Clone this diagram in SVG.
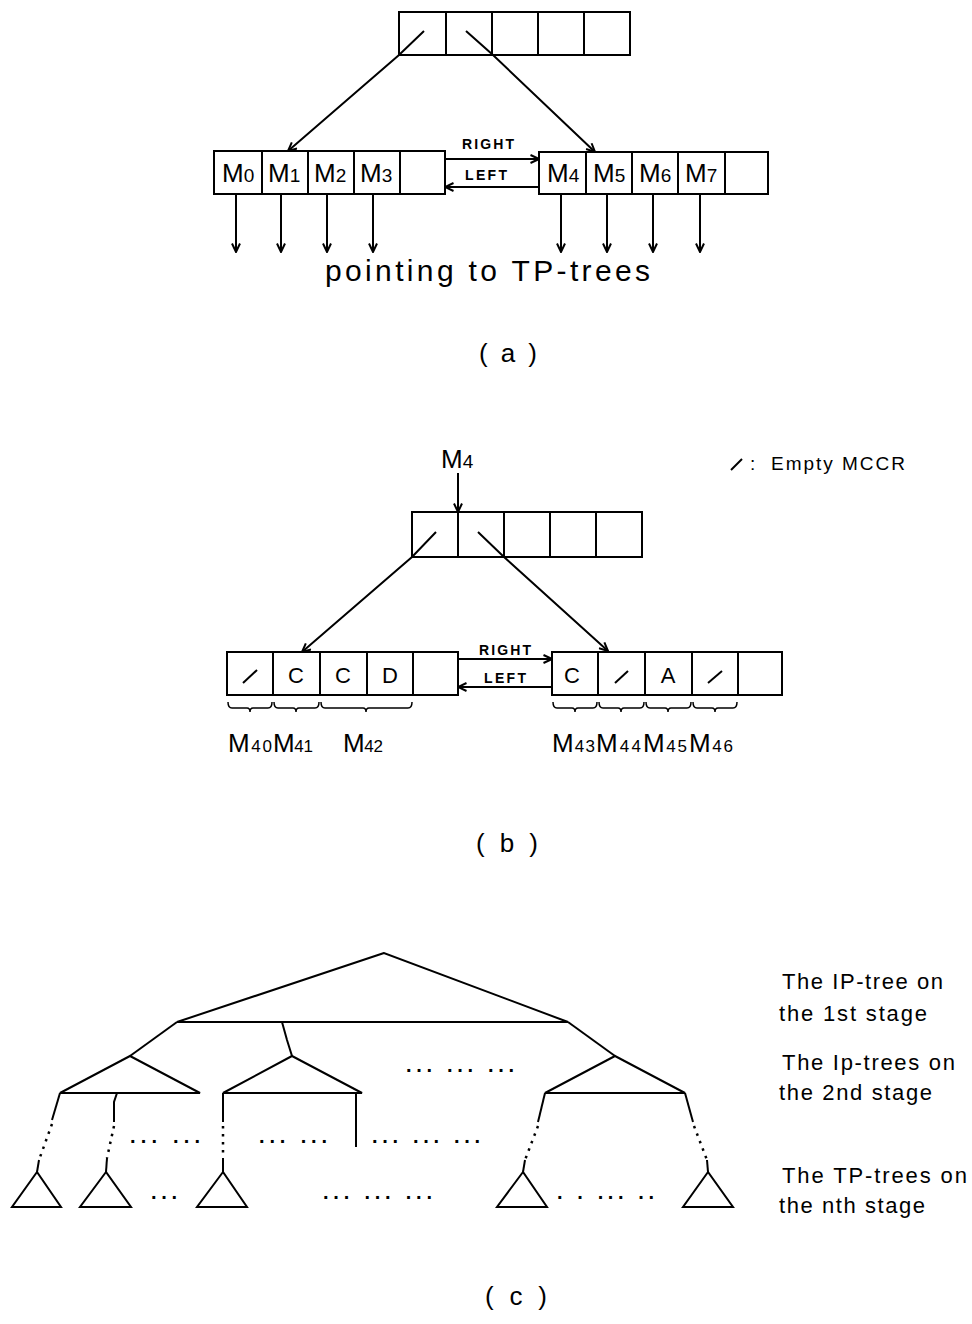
<svg xmlns="http://www.w3.org/2000/svg" width="972" height="1324" viewBox="0 0 972 1324">
<style>
.box{fill:#fff;stroke:#000;stroke-width:2}
.ln{fill:none;stroke:#000;stroke-width:2}
.thin{fill:none;stroke:#000;stroke-width:1.5}
.dot{fill:none;stroke:#000;stroke-width:2.5;stroke-dasharray:2.5 5.5}
text{font-family:"Liberation Sans",Arial,sans-serif;fill:#000}
.m{font-size:26px}
.sub{font-size:19px}
.lbl{font-size:14px;font-weight:bold}
.cap{font-size:26px}
.cell{font-size:22px}
.side{font-size:22px}
.dots{font-size:20px;font-weight:bold}
</style>
<defs>
<marker id="ah" viewBox="0 0 10 10" refX="9.5" refY="5" markerWidth="10" markerHeight="10" markerUnits="userSpaceOnUse" orient="auto">
<path d="M1,1 L9.5,5 L1,9" fill="none" stroke="#000" stroke-width="2"/>
</marker>
</defs>
<rect width="972" height="1324" fill="#fff"/>

<!-- (a) -->
<g id="a-top">
<rect class="box" x="399" y="12" width="231" height="43"/>
<path class="ln" d="M446,12V55M492,12V55M538,12V55M584,12V55"/>
</g>
<g id="a-left">
<rect class="box" x="214" y="151" width="231" height="43"/>
<path class="ln" d="M262,151V194M308,151V194M354,151V194M400,151V194"/>
<text class="m" x="222" y="182">M<tspan class="sub">0</tspan></text>
<text class="m" x="268" y="182">M<tspan class="sub">1</tspan></text>
<text class="m" x="314" y="182">M<tspan class="sub">2</tspan></text>
<text class="m" x="360" y="182">M<tspan class="sub">3</tspan></text>
</g>
<g id="a-right">
<rect class="box" x="539" y="152" width="229" height="42"/>
<path class="ln" d="M586,152V194M632,152V194M678,152V194M725,152V194"/>
<text class="m" x="547" y="182">M<tspan class="sub">4</tspan></text>
<text class="m" x="593" y="182">M<tspan class="sub">5</tspan></text>
<text class="m" x="639" y="182">M<tspan class="sub">6</tspan></text>
<text class="m" x="685" y="182">M<tspan class="sub">7</tspan></text>
</g>
<g id="a-connectors">
<polyline class="ln" points="424,31 399,55 288,151" marker-end="url(#ah)"/>
<polyline class="ln" points="466,31 493,55 595,152" marker-end="url(#ah)"/>
<line class="ln" x1="445" y1="159" x2="539" y2="159" marker-end="url(#ah)"/>
<line class="ln" x1="539" y1="187" x2="445" y2="187" marker-end="url(#ah)"/>
<line class="ln" x1="236" y1="194" x2="236" y2="252" marker-end="url(#ah)"/>
<line class="ln" x1="281" y1="194" x2="281" y2="252" marker-end="url(#ah)"/>
<line class="ln" x1="327" y1="194" x2="327" y2="252" marker-end="url(#ah)"/>
<line class="ln" x1="373" y1="194" x2="373" y2="252" marker-end="url(#ah)"/>
<line class="ln" x1="561" y1="194" x2="561" y2="252" marker-end="url(#ah)"/>
<line class="ln" x1="607" y1="194" x2="607" y2="252" marker-end="url(#ah)"/>
<line class="ln" x1="653" y1="194" x2="653" y2="252" marker-end="url(#ah)"/>
<line class="ln" x1="700" y1="194" x2="700" y2="252" marker-end="url(#ah)"/>
</g>
<text class="lbl" x="488" y="149" text-anchor="middle" textLength="52">RIGHT</text>
<text class="lbl" x="486" y="180" text-anchor="middle" textLength="42">LEFT</text>
<text x="325" y="281" font-size="30" textLength="325" lengthAdjust="spacing">pointing to TP-trees</text>
<text class="cap" x="508" y="362" text-anchor="middle" textLength="58" lengthAdjust="spacing">( a )</text>

<!-- (b) -->
<g id="b-m4">
<text class="m" x="441" y="468">M<tspan class="sub">4</tspan></text>
</g>
<g id="b-legend">
<line class="ln" x1="731" y1="470" x2="742" y2="459"/>
<text x="750" y="470" font-size="19">:</text>
<text x="771" y="470" font-size="19" textLength="134" lengthAdjust="spacing">Empty MCCR</text>
</g>
<g id="b-top">
<rect class="box" x="412" y="512" width="230" height="45"/>
<path class="ln" d="M458,512V557M504,512V557M550,512V557M596,512V557"/>
</g>
<g id="b-left">
<rect class="box" x="227" y="652" width="231" height="43"/>
<path class="ln" d="M273,652V695M320,652V695M367,652V695M413,652V695"/>
<line class="ln" x1="243" y1="683" x2="257" y2="670"/>
<text class="cell" x="296" y="683" text-anchor="middle">C</text>
<text class="cell" x="343" y="683" text-anchor="middle">C</text>
<text class="cell" x="390" y="683" text-anchor="middle">D</text>
</g>
<g id="b-right">
<rect class="box" x="552" y="652" width="230" height="43"/>
<path class="ln" d="M598,652V695M645,652V695M692,652V695M738,652V695"/>
<text class="cell" x="572" y="683" text-anchor="middle">C</text>
<line class="ln" x1="615" y1="683" x2="628" y2="671"/>
<text class="cell" x="668" y="683" text-anchor="middle">A</text>
<line class="ln" x1="708" y1="683" x2="722" y2="671"/>
</g>
<g id="b-braces">
<path class="thin" d="M228,702Q228,708 232,708L247,708Q250,708 250,712Q250,708 253,708L268,708Q272,708 272,702"/>
<path class="thin" d="M274,702Q274,708 278,708L293,708Q296,708 296,712Q296,708 299,708L315,708Q319,708 319,702"/>
<path class="thin" d="M321,702Q321,708 325,708L363,708Q366,708 366,712Q366,708 369,708L408,708Q412,708 412,702"/>
<path class="thin" d="M553,702Q553,708 557,708L572,708Q575,708 575,712Q575,708 578,708L593,708Q597,708 597,702"/>
<path class="thin" d="M599,702Q599,708 603,708L618,708Q621,708 621,712Q621,708 624,708L640,708Q644,708 644,702"/>
<path class="thin" d="M646,702Q646,708 650,708L665,708Q668,708 668,712Q668,708 671,708L687,708Q691,708 691,702"/>
<path class="thin" d="M693,702Q693,708 697,708L712,708Q715,708 715,712Q715,708 718,708L733,708Q737,708 737,702"/>
</g>
<g id="b-labels">
<text class="m" x="228" y="752" font-size="25" textLength="44" lengthAdjust="spacing">M<tspan font-size="17">40</tspan></text>
<text class="m" x="273" y="752" font-size="25" textLength="40" lengthAdjust="spacing">M<tspan font-size="17">41</tspan></text>
<text class="m" x="343" y="752" font-size="25" textLength="40" lengthAdjust="spacing">M<tspan font-size="17">42</tspan></text>
<text class="m" x="552" y="752" font-size="25" textLength="43" lengthAdjust="spacing">M<tspan font-size="17">43</tspan></text>
<text class="m" x="596" y="752" font-size="25" textLength="45" lengthAdjust="spacing">M<tspan font-size="17">44</tspan></text>
<text class="m" x="643" y="752" font-size="25" textLength="44" lengthAdjust="spacing">M<tspan font-size="17">45</tspan></text>
<text class="m" x="689" y="752" font-size="25" textLength="44" lengthAdjust="spacing">M<tspan font-size="17">46</tspan></text>
</g>
<g id="b-connectors">
<line class="ln" x1="458" y1="473" x2="458" y2="512" marker-end="url(#ah)"/>
<polyline class="ln" points="436,532 412,557 302,652" marker-end="url(#ah)"/>
<polyline class="ln" points="478,532 504,557 608,651" marker-end="url(#ah)"/>
<line class="ln" x1="458" y1="659" x2="552" y2="659" marker-end="url(#ah)"/>
<line class="ln" x1="552" y1="687" x2="458" y2="687" marker-end="url(#ah)"/>
</g>
<text class="lbl" x="505" y="655" text-anchor="middle" textLength="52">RIGHT</text>
<text class="lbl" x="505" y="683" text-anchor="middle" textLength="42">LEFT</text>
<text class="cap" x="507" y="852" text-anchor="middle" textLength="62" lengthAdjust="spacing">( b )</text>

<!-- (c) -->
<g id="c-ip-tree">
<polygon class="ln" points="384,953 177,1022 568,1022"/>
</g>
<g id="c-ip-left">
<polygon class="ln" points="130,1056 60,1093 200,1093"/>
</g>
<g id="c-ip-mid">
<polygon class="ln" points="292,1056 223,1093 362,1093"/>
</g>
<g id="c-ip-right">
<polygon class="ln" points="615,1056 545,1093 685,1093"/>
</g>
<g id="c-tp1"><polygon class="ln" points="37,1172 12,1207 61,1207"/></g>
<g id="c-tp2"><polygon class="ln" points="106,1172 80,1207 131,1207"/></g>
<g id="c-tp3"><polygon class="ln" points="223,1172 197,1207 247,1207"/></g>
<g id="c-tp4"><polygon class="ln" points="523,1172 497,1207 547,1207"/></g>
<g id="c-tp5"><polygon class="ln" points="708,1172 683,1207 733,1207"/></g>
<g id="c-connectors">
<line class="ln" x1="177" y1="1022" x2="130" y2="1056"/>
<polyline class="ln" points="282,1022 287,1040 292,1056"/>
<line class="ln" x1="568" y1="1022" x2="615" y2="1056"/>
<line class="ln" x1="60" y1="1093" x2="52" y2="1120"/>
<line class="dot" x1="52" y1="1124" x2="39" y2="1160"/>
<line class="ln" x1="39" y1="1160" x2="37" y2="1172"/>
<polyline class="ln" points="117,1093 114,1102 114,1122"/>
<line class="dot" x1="114" y1="1126" x2="107" y2="1158"/>
<line class="ln" x1="107" y1="1158" x2="106" y2="1172"/>
<line class="ln" x1="223" y1="1093" x2="223" y2="1122"/>
<line class="dot" x1="223" y1="1126" x2="223" y2="1158"/>
<line class="ln" x1="223" y1="1158" x2="223" y2="1172"/>
<line class="ln" x1="356" y1="1093" x2="356" y2="1147"/>
<line class="ln" x1="545" y1="1093" x2="538" y2="1122"/>
<line class="dot" x1="538" y1="1126" x2="525" y2="1160"/>
<line class="ln" x1="525" y1="1160" x2="523" y2="1172"/>
<line class="ln" x1="685" y1="1093" x2="693" y2="1122"/>
<line class="dot" x1="694" y1="1126" x2="707" y2="1160"/>
<line class="ln" x1="707" y1="1160" x2="708" y2="1172"/>
</g>
<g id="c-dots">
<text class="dots" x="406" y="1072" textLength="108" lengthAdjust="spacing">... ... ...</text>
<text class="dots" x="130" y="1143" textLength="70" lengthAdjust="spacing">... ...</text>
<text class="dots" x="259" y="1143" textLength="68" lengthAdjust="spacing">... ...</text>
<text class="dots" x="372" y="1143" textLength="108" lengthAdjust="spacing">... ... ...</text>
<text class="dots" x="151" y="1199" textLength="26" lengthAdjust="spacing">...</text>
<text class="dots" x="323" y="1199" textLength="109" lengthAdjust="spacing">... ... ...</text>
<text class="dots" x="557" y="1199" textLength="97" lengthAdjust="spacing">. . ... ..</text>
</g>
<g id="c-labels">
<text class="side" x="782" y="989" textLength="161" lengthAdjust="spacing">The IP-tree on</text>
<text class="side" x="779" y="1021" textLength="148" lengthAdjust="spacing">the 1st stage</text>
<text class="side" x="782" y="1070" textLength="173" lengthAdjust="spacing">The Ip-trees on</text>
<text class="side" x="779" y="1100" textLength="153" lengthAdjust="spacing">the 2nd stage</text>
<text class="side" x="782" y="1183" textLength="185" lengthAdjust="spacing">The TP-trees on</text>
<text class="side" x="779" y="1213" textLength="146" lengthAdjust="spacing">the nth stage</text>
</g>
<text class="cap" x="516" y="1305" text-anchor="middle" textLength="62" lengthAdjust="spacing">( c )</text>
</svg>
